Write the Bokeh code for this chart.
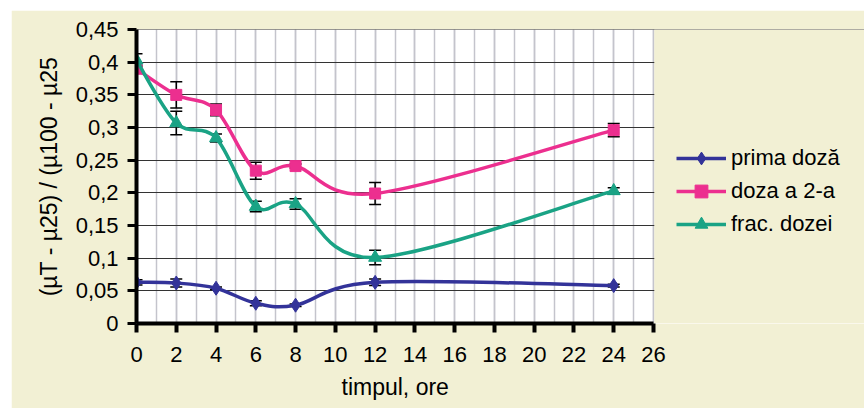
from bokeh.plotting import figure
from bokeh.models import (ColumnDataSource, Whisker, TeeHead, Legend, LegendItem, Title,
                          SingleIntervalTicker, CustomJSTickFormatter, Range1d, BoxAnnotation)
from bokeh.embed import file_html
from bokeh.resources import INLINE

# ---- data ----
hours = [0, 2, 4, 6, 8, 12, 24]
prima = [0.063, 0.062, 0.054, 0.031, 0.028, 0.063, 0.058]
prima_err = [0.004, 0.006, 0.002, 0.004, 0.002, 0.005, 0.002]
doza2 = [0.390, 0.350, 0.327, 0.234, 0.241, 0.199, 0.296]
doza2_err = [0.005, 0.020, 0.009, 0.013, 0.003, 0.017, 0.010]
frac = [0.403, 0.307, 0.284, 0.179, 0.183, 0.101, 0.203]
frac_err = [0.010, 0.018, 0.006, 0.008, 0.008, 0.011, 0.005]

series_names = ["prima doză", "doza a 2-a", "frac. dozei"]
x_axis_max = 26
y_axis_max = 0.45
x_ticks_interval = 2
y_ticks_interval = 0.05

FONT = "Liberation Sans"
BG = "#F2F0D4"
COLORS = ["#333399", "#EC2F8F", "#1AA385"]
MARKERS = ["diamond", "square", "triangle"]
MSIZES = [14, 11, 13]

MARGIN_TOP, MARGIN_LEFT = 10, 11
W, H = 864 - MARGIN_LEFT, 408 - MARGIN_TOP
LEFT, PLOT_W = 125, 517   # plot area of the axes 0..26
TOP, BOTTOM = 19, 85


def smooth_segments(xs, ys):
    """Bezier control points for an Excel-like smoothed line through the data."""
    n = len(xs)
    d = dict(x0=[], y0=[], x1=[], y1=[], cx0=[], cy0=[], cx1=[], cy1=[])
    for i in range(n - 1):
        a = i - 1 if i > 0 else i
        b = i + 2 if i + 2 < n else i + 1
        d["x0"].append(xs[i]); d["y0"].append(ys[i])
        d["x1"].append(xs[i + 1]); d["y1"].append(ys[i + 1])
        d["cx0"].append(xs[i] + (xs[i + 1] - xs[a]) / 6.0)
        d["cy0"].append(ys[i] + (ys[i + 1] - ys[a]) / 6.0)
        d["cx1"].append(xs[i + 1] - (xs[b] - xs[i]) / 6.0)
        d["cy1"].append(ys[i + 1] - (ys[b] - ys[i]) / 6.0)
    return d


# the frame runs to the right edge so the legend can sit inside it
x_end = x_axis_max * (W - LEFT) / PLOT_W
p = figure(width=W, height=H, output_backend="svg", toolbar_location=None,
           x_range=Range1d(0, x_end), y_range=Range1d(0, y_axis_max + 0.0001),
           min_border_left=LEFT, min_border_right=0, min_border_top=TOP,
           min_border_bottom=BOTTOM, margin=(MARGIN_TOP, 0, 0, MARGIN_LEFT))
p.border_fill_color = BG
p.background_fill_color = "white"
p.outline_line_color = None

# axes
p.xaxis.ticker = SingleIntervalTicker(interval=x_ticks_interval, num_minor_ticks=2)
p.xaxis.bounds = (0, x_axis_max)
p.yaxis.ticker = SingleIntervalTicker(interval=y_ticks_interval, num_minor_ticks=0)
p.yaxis.formatter = CustomJSTickFormatter(
    code="return tick.toFixed(2).replace(/0+$/, '').replace(/\\.$/, '').replace('.', ',');")

for ax in (p.xaxis[0], p.yaxis[0]):
    ax.axis_line_color = "black"
    ax.major_tick_line_color = "black"
    ax.major_tick_in = 0
    ax.major_tick_out = 9
    ax.minor_tick_line_color = None
    ax.major_label_text_font = FONT
    ax.major_label_text_font_size = "22px"
    ax.major_label_text_color = "black"
    ax.axis_label_text_font = FONT
    ax.axis_label_text_font_size = "23px"
    ax.axis_label_text_font_style = "normal"
    ax.axis_label_text_color = "black"

p.xaxis.axis_line_width = 4
p.xaxis.major_tick_line_width = 4
p.xaxis.major_label_standoff = 14
p.yaxis.axis_line_width = 4
p.yaxis.major_tick_line_width = 3
p.yaxis.major_label_standoff = 9
p.yaxis.axis_label = "(µT - µ25) / (µ100 - µ25"
p.yaxis.axis_label_standoff = 11

# x axis title, centred under the 0..26 plot area
p.add_layout(Title(text="timpul, ore", align="left", offset=205, standoff=15,
                   text_font=FONT, text_font_size="23px", text_font_style="normal",
                   text_color="black"), "below")

# grid
p.xgrid.grid_line_color = "#C4C4CC"
p.xgrid.grid_line_width = 1.5
p.xgrid.minor_grid_line_color = "#C4C4CC"
p.xgrid.minor_grid_line_width = 1.5
p.ygrid.grid_line_color = "#333333"
p.ygrid.grid_line_width = 1.2

# area right of the plot area gets the chart background again
p.add_layout(BoxAnnotation(left=x_axis_max + 0.04, fill_color=BG, fill_alpha=1,
                           line_color=None, level="underlay"))

items = []
for name, ys, errs, col, mk, ms in zip(series_names, [prima, doza2, frac],
                                       [prima_err, doza2_err, frac_err],
                                       COLORS, MARKERS, MSIZES):
    seg = ColumnDataSource(smooth_segments(hours, ys))
    bz = p.bezier(x0="x0", y0="y0", x1="x1", y1="y1", cx0="cx0", cy0="cy0",
                  cx1="cx1", cy1="cy1", source=seg, line_color=col, line_width=3.5)
    src = ColumnDataSource(dict(x=hours, y=ys,
                                upper=[v + e for v, e in zip(ys, errs)],
                                lower=[v - e for v, e in zip(ys, errs)]))
    sc = p.scatter("x", "y", source=src, marker=mk, size=ms, fill_color=col,
                   line_color=col, line_width=1)
    w = Whisker(base="x", upper="upper", lower="lower", source=src, dimension="height",
                line_color="black", line_width=1.5,
                upper_head=TeeHead(size=12, line_color="black", line_width=1.5),
                lower_head=TeeHead(size=12, line_color="black", line_width=1.5))
    p.add_layout(w)
    items.append(LegendItem(label=name, renderers=[bz, sc]))

legend = Legend(items=items, location=(540, 83), label_text_font=FONT,
                label_text_font_size="22px", label_text_color="black",
                glyph_width=50, glyph_height=32, label_height=32, spacing=1,
                padding=0, margin=0, label_standoff=5,
                border_line_color=None, background_fill_alpha=0)
p.add_layout(legend)

open("out.html", "w").write(file_html(p, INLINE))
